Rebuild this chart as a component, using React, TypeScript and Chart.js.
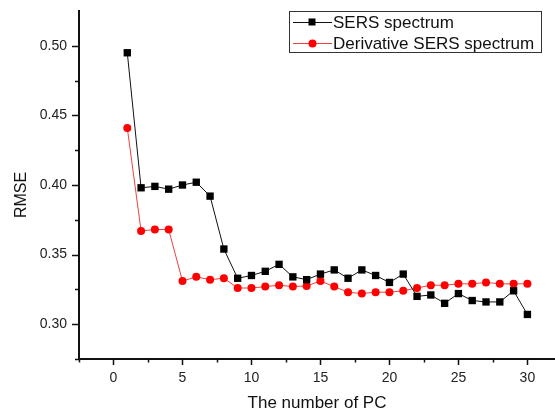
import React, { useEffect, useRef } from "react";
import { Chart, registerables } from "chart.js";

Chart.register(...registerables);

const pcNumbers = [1, 2, 3, 4, 5, 6, 7, 8, 9, 10, 11, 12, 13, 14, 15, 16, 17, 18, 19, 20, 21, 22, 23, 24, 25, 26, 27, 28, 29, 30];
const sersRmse = [0.495, 0.398, 0.399, 0.397, 0.400, 0.402, 0.392, 0.354, 0.333, 0.335, 0.338, 0.343, 0.334, 0.332, 0.336, 0.339, 0.333, 0.339, 0.335, 0.330, 0.336, 0.320, 0.321, 0.315, 0.322, 0.317, 0.316, 0.316, 0.324, 0.307];
const derivRmse = [0.441, 0.367, 0.368, 0.368, 0.331, 0.334, 0.332, 0.333, 0.326, 0.326, 0.327, 0.328, 0.327, 0.3275, 0.331, 0.327, 0.323, 0.322, 0.323, 0.323, 0.324, 0.326, 0.328, 0.328, 0.329, 0.329, 0.330, 0.329, 0.329, 0.329];
const seriesLabels = ["SERS spectrum", "Derivative SERS spectrum"];
const xTitle = "The number of PC";
const yTitle = "RMSE";
const xMajorTicks = [0, 5, 10, 15, 20, 25, 30];
const xMinorTicks = [-2.5, 2.5, 7.5, 12.5, 17.5, 22.5, 27.5];
const yMajorTicks = [0.30, 0.35, 0.40, 0.45, 0.50];
const yMinorTicks = [0.275, 0.325, 0.375, 0.425, 0.475];

const FONT = "'Liberation Sans', Arial, sans-serif";

const decorPlugin = {
  id: "decor",
  afterDraw(chart: any) {
    const ctx = chart.ctx;
    const xs = chart.scales.x;
    const ys = chart.scales.y;
    const area = chart.chartArea;
    ctx.save();
    // tick marks (outward)
    ctx.strokeStyle = "#111";
    ctx.lineWidth = 1.5;
    ctx.beginPath();
    yMajorTicks.forEach((v) => {
      const p = Math.round(ys.getPixelForValue(v)) + 0.5;
      ctx.moveTo(area.left - 7, p);
      ctx.lineTo(area.left, p);
    });
    yMinorTicks.forEach((v) => {
      const p = Math.round(ys.getPixelForValue(v)) + 0.5;
      ctx.moveTo(area.left - 4, p);
      ctx.lineTo(area.left, p);
    });
    xMajorTicks.forEach((v) => {
      const p = Math.round(xs.getPixelForValue(v)) + 0.5;
      ctx.moveTo(p, area.bottom);
      ctx.lineTo(p, area.bottom + 6);
    });
    xMinorTicks.forEach((v) => {
      const p = Math.round(xs.getPixelForValue(v)) + 0.5;
      ctx.moveTo(p, area.bottom);
      ctx.lineTo(p, area.bottom + 3.5);
    });
    ctx.stroke();

    // axis titles
    ctx.fillStyle = "#111";
    ctx.font = `16px ${FONT}`;
    ctx.textAlign = "center";
    ctx.textBaseline = "middle";
    ctx.save();
    ctx.translate(22, 195);
    ctx.rotate(-Math.PI / 2);
    ctx.fillText(yTitle, 0, 0);
    ctx.restore();
    ctx.font = `17px ${FONT}`;
    ctx.fillText(xTitle, (area.left + area.right) / 2, 403);

    // legend box
    const bx = 289.5, by = 11.5, bw = 252, bh = 41;
    ctx.strokeStyle = "#333";
    ctx.lineWidth = 1;
    ctx.strokeRect(bx, by, bw, bh);
    const rows = [22, 43];
    chart.data.datasets.forEach((ds: any, i: number) => {
      const y = rows[i];
      ctx.strokeStyle = ds.borderColor;
      ctx.lineWidth = ds.borderWidth;
      ctx.beginPath();
      ctx.moveTo(293, y + 0.5);
      ctx.lineTo(332, y + 0.5);
      ctx.stroke();
      ctx.fillStyle = ds.pointBackgroundColor;
      if (ds.pointStyle === "rect") {
        ctx.fillRect(312 - 3.5, y - 3.5, 7, 7);
      } else {
        ctx.beginPath();
        ctx.arc(312.5, y + 0.5, 4, 0, Math.PI * 2);
        ctx.fill();
      }
      ctx.fillStyle = "#111";
      ctx.font = `17px ${FONT}`;
      ctx.textAlign = "left";
      ctx.textBaseline = "middle";
      ctx.fillText(ds.label, 333, y + 1);
    });
    ctx.restore();
  },
};

const zeroPad = (scale: any) => {
  scale.paddingLeft = 0;
  scale.paddingRight = 0;
  scale.paddingTop = 0;
  scale.paddingBottom = 0;
};

export default function App() {
  const canvasRef = useRef<HTMLCanvasElement | null>(null);

  useEffect(() => {
    if (!canvasRef.current) return;
    const chart = new Chart(canvasRef.current, {
      type: "line",
      data: {
        datasets: [
          {
            label: seriesLabels[0],
            data: pcNumbers.map((x, i) => ({ x, y: sersRmse[i] })),
            borderColor: "#111",
            borderWidth: 1,
            pointStyle: "rect",
            pointRadius: 5.2,
            pointBackgroundColor: "#000",
            pointBorderColor: "#000",
            pointBorderWidth: 0,
            tension: 0,
          },
          {
            label: seriesLabels[1],
            data: pcNumbers.map((x, i) => ({ x, y: derivRmse[i] })),
            borderColor: "rgba(235,30,30,0.85)",
            borderWidth: 1,
            pointStyle: "circle",
            pointRadius: 4,
            pointBackgroundColor: "#f00",
            pointBorderColor: "#f00",
            pointBorderWidth: 0,
            tension: 0,
          },
        ],
      },
      options: {
        responsive: false,
        animation: false,
        events: [],
        layout: { autoPadding: false, padding: { left: 0, right: 0, top: 11, bottom: 0 } },
        plugins: {
          legend: { display: false },
          tooltip: { enabled: false },
          title: { display: false },
        },
        scales: {
          x: {
            type: "linear",
            min: -2.5,
            max: 32,
            afterBuildTicks: (scale: any) => {
              scale.ticks = xMajorTicks.map((v) => ({ value: v }));
            },
            afterFit: (scale: any) => {
              scale.height = 53;
              zeroPad(scale);
            },
            grid: { drawOnChartArea: false, drawTicks: false },
            border: { display: true, color: "#111", width: 2 },
            ticks: {
              padding: 11,
              color: "#222",
              font: { family: FONT, size: 14 },
              maxRotation: 0,
              autoSkip: false,
              callback: (v: any) => String(v),
            },
          },
          y: {
            type: "linear",
            min: 0.275,
            max: 0.525,
            afterBuildTicks: (scale: any) => {
              scale.ticks = yMajorTicks.map((v) => ({ value: v }));
            },
            afterFit: (scale: any) => {
              scale.width = 79;
              zeroPad(scale);
            },
            grid: { drawOnChartArea: false, drawTicks: false },
            border: { display: true, color: "#111", width: 2 },
            ticks: {
              padding: 12,
              color: "#222",
              font: { family: FONT, size: 14 },
              autoSkip: false,
              callback: (v: any) => Number(v).toFixed(2),
            },
          },
        },
      },
      plugins: [decorPlugin],
    });
    return () => chart.destroy();
  }, []);

  return (
    <div style={{ position: "fixed", left: 0, top: 0, width: 555, height: 412, background: "#fff" }}>
      <canvas ref={canvasRef} width={555} height={412} style={{ display: "block" }} />
    </div>
  );
}
